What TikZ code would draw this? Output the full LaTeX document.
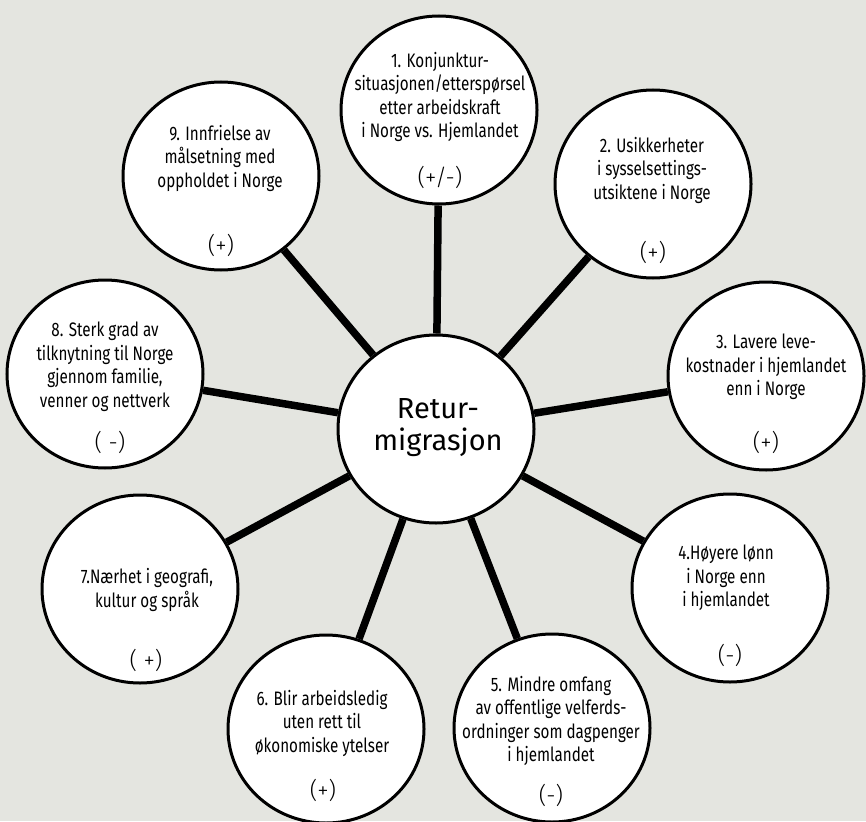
\documentclass[tikz,border=0pt]{standalone}
\usepackage{fontspec}
\setmainfont{Fira Sans}
\newfontfamily\cond[FakeStretch=0.78]{Fira Sans}
\newfontfamily\signfont{Fira Sans Light}
\usetikzlibrary{shapes.geometric}
\definecolor{bg}{RGB}{228,229,224}
\begin{document}
\begin{tikzpicture}[x=1pt,y=-1pt,
  bubble/.style={ellipse,draw=black,line width=3pt,fill=white,minimum width=196pt,minimum height=188pt,inner sep=0pt},
  spoke/.style={line width=7.5pt,black},
  lbl/.style={font=\cond\fontsize{19.5}{23.5}\selectfont,align=center,inner sep=0pt},
  sgn/.style={font=\signfont\fontsize{23}{24}\selectfont,inner sep=0pt},
  hubtext/.style={font=\fontsize{29}{32}\selectfont,align=center,inner sep=0pt}
]
\fill[bg] (0,0) rectangle (866,821);
\useasboundingbox (0,0) rectangle (866,821);

\node[bubble] (c0) at (436,429) {};
\node[bubble] (c1) at (439,110) {};
\node[bubble] (c2) at (653,184) {};
\node[bubble] (c3) at (766,376) {};
\node[bubble] (c4) at (730,588) {};
\node[bubble] (c5) at (552,728) {};
\node[bubble] (c6) at (326,729) {};
\node[bubble] (c7) at (140,589) {};
\node[bubble] (c8) at (105,374) {};
\node[bubble] (c9) at (221,176) {};

\foreach \i in {1,...,9} \draw[spoke] (c0) -- (c\i);

\node[hubtext] (t0) at (438,428) {Retur-\\migrasjon};

\node[lbl] (t1) at (440,97) {1. Konjunktur-\\situasjonen/etterspørsel\\etter arbeidskraft\\i Norge vs. Hjemlandet};
\node[sgn] (s1) at (440,177) {(+/-)};

\node[lbl] (t2) at (652,170) {2. Usikkerheter\\i sysselsettings-\\utsiktene i Norge};
\node[sgn] (s2) at (653,252) {(+)};

\node[lbl] (t3) at (766,367) {3. Lavere leve-\\kostnader i hjemlandet\\enn i Norge};
\node[sgn] (s3) at (766,442) {(+)};

\node[lbl] (t4) at (726,578) {4.Høyere lønn\\i Norge enn\\i hjemlandet};
\node[sgn] (s4) at (730,655) {(-)};

\node[lbl] (t5) at (551,721) {5. Mindre omfang\\av offentlige velferds-\\ordninger som dagpenger\\i hjemlandet};
\node[sgn] (s5) at (551,795) {(-)};

\node[lbl] (t6) at (322,723) {6. Blir arbeidsledig\\uten rett til\\økonomiske ytelser};
\node[sgn] (s6) at (323,790) {(+)};

\node[lbl] (t7) at (147,590) {7.Nærhet i geografi,\\kultur og språk};
\node[sgn] (s7) at (146,660) {( +)};

\node[lbl] (t8) at (105,367) {8. Sterk grad av\\tilknytning til Norge\\gjennom familie,\\venner og nettverk};
\node[sgn] (s8) at (110,442) {( -)};

\node[lbl] (t9) at (220,158) {9. Innfrielse av\\målsetning med\\oppholdet i Norge};
\node[sgn] (s9) at (221,245) {(+)};
\end{tikzpicture}
\end{document}
